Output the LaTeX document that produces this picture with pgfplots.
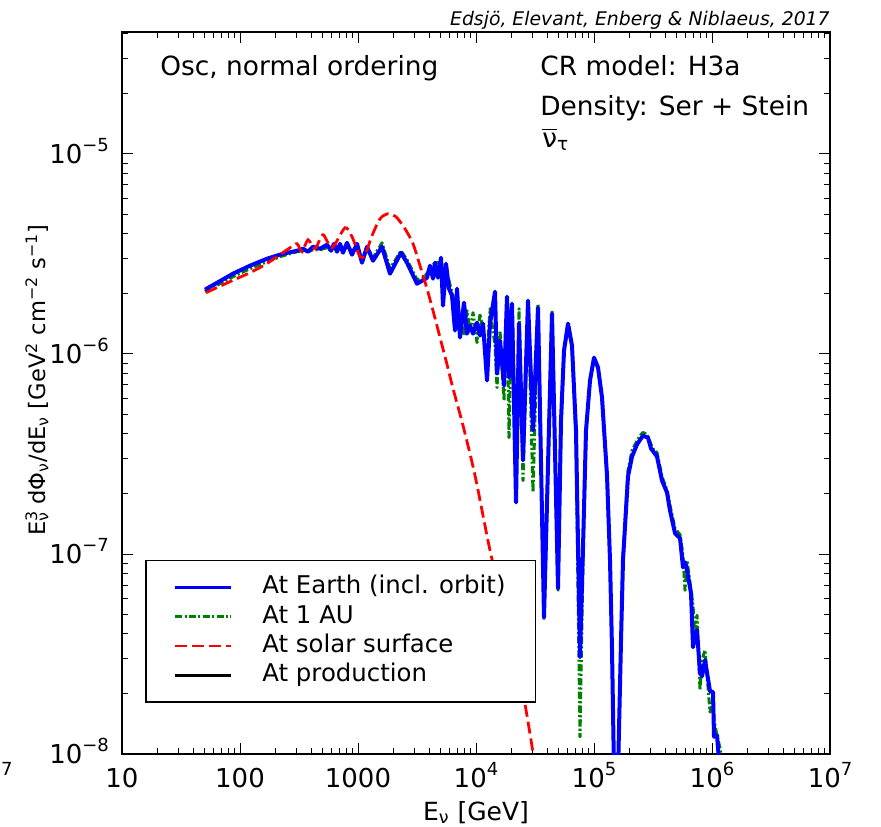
\documentclass[border=0pt]{standalone}
\usepackage{fontspec}
\setmainfont{DejaVu Sans}
\usepackage{pgfplots}
\pgfplotsset{compat=1.18}
\definecolor{mplgreen}{rgb}{0,0.5,0}

\newcommand\tickfont{\fontsize{13}{15}\selectfont}
\newcommand\annfont{\fontsize{13.2}{16}\selectfont}
\newcommand\sups[1]{\raisebox{0.45em}{\fontsize{9}{10}\selectfont #1}}

\begin{document}
\begin{tikzpicture}
\useasboundingbox (-61pt,-36pt) rectangle (379.5pt,377pt);
\begin{axis}[
  at={(0,0)}, anchor=south west,
  scale only axis, width=354pt, height=361pt,
  xmode=log, ymode=log,
  xmin=10, xmax=1e7, ymin=1e-8, ymax=4.07e-5,
  axis line style={line width=0.75pt},
  tick style={line width=0.5pt, black},
  major tick length=5.5pt, minor tick length=3pt,
  tick align=inside,
  xtick={10,100,1000,1e4,1e5,1e6,1e7},
  xticklabels={10,100,1000,10\sups{4},10\sups{5},10\sups{6},10\sups{7}},
  minor xtick={20,30,40,50,60,70,80,90,200,300,400,500,600,700,800,900,
    2000,3000,4000,5000,6000,7000,8000,9000,2e4,3e4,4e4,5e4,6e4,7e4,8e4,9e4,
    2e5,3e5,4e5,5e5,6e5,7e5,8e5,9e5,2e6,3e6,4e6,5e6,6e6,7e6,8e6,9e6},
  ytick={1e-8,1e-7,1e-6,1e-5},
  yticklabels={10\sups{−8},10\sups{−7},10\sups{−6},10\sups{−5}},
  minor ytick={2e-8,3e-8,4e-8,5e-8,6e-8,7e-8,8e-8,9e-8,2e-7,3e-7,4e-7,5e-7,6e-7,7e-7,8e-7,9e-7,
    2e-6,3e-6,4e-6,5e-6,6e-6,7e-6,8e-6,9e-6,2e-5,3e-5,4e-5},
  tick label style={font=\tickfont},
  xticklabel style={anchor=base, yshift=-16.5pt},
  yticklabel style={anchor=base east, xshift=-3pt, yshift=-4.7pt},
  legend style={at={(0.0325,0.0706)}, anchor=south west, draw=black, line width=0.8pt,
    font=\fontsize{12.2}{14}\selectfont, inner xsep=14pt, inner ysep=6pt,
    nodes={inner sep=1pt, text height=9.5pt, text depth=3.2pt},
    /tikz/every odd column/.append style={column sep=14pt},
    cells={anchor=west}, row sep=0pt},
  legend image code/.code={\draw[#1, line width=1.3pt] (0pt,0pt) -- (28pt,0pt);},
]
\addlegendimage{blue, solid}
\addlegendentry{At Earth (incl. orbit)}
\addlegendimage{mplgreen, dash pattern=on 3.5pt off 1.2pt on 1pt off 1.2pt}
\addlegendentry{At 1 AU}
\addlegendimage{red, dash pattern=on 6pt off 2.5pt}
\addlegendentry{At solar surface}
\addlegendimage{black, solid}
\addlegendentry{At production}

% At 1 AU
\addplot[forget plot, mplgreen, line width=1.5pt, line join=round,
  dash pattern=on 3.5pt off 1.2pt on 1pt off 1.2pt] coordinates {
(50.5,2.049e-6) (87.2,2.434e-6) (121.5,2.669e-6) (169.4,2.892e-6) (231.4,3.099e-6)
(304.1,3.245e-6) (341.9,3.282e-6) (376.9,3.245e-6) (415.6,3.320e-6) (476.4,3.320e-6)
(546.2,3.398e-6) (590.4,3.282e-6) (626.1,3.438e-6) (663.8,3.245e-6) (703.8,3.438e-6)
(746.2,3.245e-6) (806.8,3.477e-6) (889.6,3.245e-6) (980.7,3.517e-6) (1081,2.994e-6)
(1192,3.438e-6) (1340,3.029e-6) (1598,3.598e-6) (1867,2.669e-6) (2314,3.282e-6)
(2602,2.960e-6) (3162,2.351e-6) (3625,2.406e-6) (4075,2.669e-6) (4493,2.859e-6)
(5051,2.859e-6) (5568,2.550e-6) (5904,2.325e-6) (6261,2.025e-6) (6638,1.744e-6)
(6902,1.555e-6) (7318,1.609e-6) (7912,1.236e-6) (8389,1.647e-6) (8896,1.309e-6)
(9432,1.609e-6) (1.0197e4,1.140e-6) (1.0812e4,1.591e-6) (1.1464e4,1.309e-6) (1.2395e4,9.82e-7)
(1.3143e4,1.685e-6) (1.4493e4,1.101e-6) (1.5066e4,6.80e-7) (1.5975e4,1.309e-6) (1.7267e4,5.85e-7)
(1.8308e4,1.848e-6) (1.9038e4,3.82e-7) (2.0185e4,1.806e-6) (2.183e4,2.62e-7) (2.3145e4,1.685e-6)
(2.502e4,2.33e-7) (2.758e4,1.806e-6) (3.041e4,2.03e-7) (3.353e4,1.785e-6) (3.769e4,4.67e-8)
(4.406e4,1.647e-6) (4.954e4,6.59e-8) (5.252e4,4.39e-7) (5.568e4,1.016e-6) (6.022e4,1.386e-6)
(6.510e4,1.076e-6) (7.038e4,3.69e-7) (7.609e4,1.22e-8) (8.068e4,9.30e-8) (8.555e4,3.96e-7)
(9.250e4,7.37e-7) (1.0e5,9.59e-7) (1.0812e5,8.65e-7) (1.1689e5,6.06e-7) (1.2888e5,2.47e-7)
(1.3665e5,9.30e-8) (1.4213e5,3.31e-8) (1.4779e5,8e-9) (1.5975e5,8e-9) (1.694e5,3.71e-8)
(1.7607e5,9.85e-8) (1.9413e5,2.62e-7) (2.0987e5,3.29e-7) (2.3145e5,3.69e-7) (2.502e5,3.96e-7)
(2.602e5,4.05e-7) (2.7055e5,4.01e-7) (2.868e5,3.87e-7) (3.041e5,3.53e-7) (3.2243e5,3.29e-7)
(3.419e5,3.22e-7) (3.769e5,2.44e-7) (4.156e5,2.08e-7) (4.406e5,1.75e-7) (4.858e5,1.34e-7)
(5.356e5,1.25e-7) (5.678e5,9.85e-8) (5.904e5,6.59e-8) (6.140e5,9.30e-8) (6.638e5,6.59e-8)
(6.902e5,5.55e-8) (7.176e5,3.71e-8) (7.462e5,4.94e-8) (7.912e5,2.09e-8) (8.227e5,2.95e-8)
(8.724e5,3.31e-8) (9.617e5,1.62e-8) (1.0197e6,1.86e-8) (1.0398e6,1.48e-8) (1.1024e6,1.24e-8)
(1.1689e6,1.07e-8) (1.2395e6,8e-9)
};

% At Earth
\addplot[forget plot, blue, line width=2pt, line join=round] coordinates {
(50.5,2.097e-6) (87.2,2.520e-6) (121.5,2.763e-6) (169.4,2.994e-6) (231.4,3.171e-6)
(304.1,3.282e-6) (341.9,3.359e-6) (376.9,3.245e-6) (415.6,3.438e-6) (476.4,3.359e-6)
(546.2,3.517e-6) (590.4,3.282e-6) (626.1,3.557e-6) (663.8,3.245e-6) (703.8,3.557e-6)
(746.2,3.208e-6) (806.8,3.598e-6) (889.6,3.135e-6) (980.7,3.557e-6) (1081,2.859e-6)
(1192,3.438e-6) (1340,2.926e-6) (1598,3.438e-6) (1867,2.520e-6) (2314,3.208e-6)
(2602,2.859e-6) (3162,2.246e-6) (3625,2.351e-6) (3844,2.406e-6) (4075,2.763e-6)
(4321,2.379e-6) (4493,2.859e-6) (4764,2.406e-6) (5051,3.029e-6) (5252,1.744e-6)
(5568,2.827e-6) (5904,2.121e-6) (6261,1.957e-6) (6638,1.309e-6) (6902,2.121e-6)
(7318,1.208e-6) (7912,1.806e-6) (8389,1.264e-6) (8896,1.386e-6) (9432,1.264e-6)
(1.0197e4,1.435e-6) (1.0812e4,1.236e-6) (1.1464e4,1.419e-6) (1.2395e4,7.37e-7) (1.3143e4,1.419e-6)
(1.4493e4,2.049e-6) (1.5066e4,7.98e-7) (1.5975e4,1.167e-6) (1.7267e4,6.95e-7) (1.8308e4,1.934e-6)
(1.9038e4,7.62e-7) (2.0185e4,1.785e-6) (2.183e4,1.81e-7) (2.3145e4,1.419e-6) (2.502e4,2.94e-7)
(2.758e4,1.848e-6) (3.041e4,4.15e-7) (3.353e4,1.705e-6) (3.769e4,4.83e-8) (4.406e4,1.591e-6)
(4.954e4,6.74e-8) (5.252e4,4.65e-7) (5.568e4,1.040e-6) (6.022e4,1.419e-6) (6.510e4,1.101e-6)
(7.038e4,4.15e-7) (7.609e4,3.05e-8) (8.068e4,1.08e-7) (8.555e4,4.15e-7) (9.250e4,7.37e-7)
(1.0e5,9.59e-7) (1.0812e5,8.55e-7) (1.1689e5,6.06e-7) (1.2888e5,2.47e-7) (1.3665e5,9.30e-8)
(1.4213e5,3.31e-8) (1.4779e5,8e-9) (1.5975e5,8e-9) (1.694e5,3.71e-8) (1.7607e5,9.30e-8)
(1.9413e5,2.44e-7) (2.0987e5,3.07e-7) (2.3145e5,3.53e-7) (2.502e5,3.78e-7) (2.602e5,3.91e-7)
(2.7055e5,3.87e-7) (2.868e5,3.82e-7) (3.041e5,3.37e-7) (3.2243e5,3.22e-7) (3.419e5,3.07e-7)
(3.769e5,2.33e-7) (4.156e5,2.03e-7) (4.406e5,1.65e-7) (4.858e5,1.27e-7) (5.356e5,1.20e-7)
(5.678e5,8.58e-8) (5.904e5,9.09e-8) (6.140e5,8.29e-8) (6.638e5,6.37e-8) (6.902e5,3.42e-8)
(7.176e5,3.88e-8) (7.462e5,4.16e-8) (7.912e5,2.54e-8) (8.227e5,2.45e-8) (8.724e5,2.95e-8)
(9.617e5,2.06e-8) (1.0197e6,2.04e-8) (1.0398e6,1.22e-8) (1.1024e6,1.24e-8) (1.1689e6,8e-9)
};

% At solar surface
\addplot[forget plot, red, line width=1.4pt, dash pattern=on 6pt off 2.5pt, smooth, tension=0.45] coordinates {
(51.5,2.025e-6) (82.2,2.299e-6) (121.6,2.550e-6) (162.9,2.794e-6) (205.9,3.064e-6)
(265.3,3.398e-6) (304.2,3.558e-6) (335.3,3.245e-6) (377.0,3.725e-6) (432.1,3.359e-6)
(505.0,3.946e-6) (602.1,3.398e-6) (775.9,4.277e-6) (889.6,3.857e-6) (1040,3.064e-6)
(1146,3.135e-6) (1314,3.901e-6) (1537,4.742e-6) (1796,5.023e-6) (2099,4.853e-6)
(2502,4.228e-6) (2925,3.558e-6) (3353,2.763e-6) (3843,2.121e-6) (4322,1.647e-6)
(5569,9.27e-7) (6386,6.72e-7) (7760,4.39e-7) (9806,2.47e-7) (1.314e4,1.043e-7)
(1.761e4,4.94e-8) (2.140e4,2.947e-8) (2.502e4,2.016e-8) (2.925e4,1.175e-8) (3.101e4,9.33e-9)
};
\end{axis}

\node[anchor=base west, inner sep=0pt, font=\annfont] at (19pt,339pt) {Osc, normal ordering};
\node[anchor=base west, inner sep=0pt, font=\annfont] at (209pt,339pt) {CR model: H3a};
\node[anchor=base west, inner sep=0pt, font=\annfont] at (209pt,319.5pt) {Density: Ser + Stein};
\node[anchor=base west, inner sep=0pt, font=\annfont] at (210pt,303.5pt) {$\overline{\hbox{ν}}$\textsubscript{τ}};
\node[anchor=base east, inner sep=0pt, font=\fontsize{9.4}{11}\selectfont\itshape] at (354pt,364pt)
  {Edsjö, Elevant, Enberg \& Niblaeus, 2017};
\node[anchor=base, inner sep=0pt, font=\fontsize{12.5}{15}\selectfont] at (177pt,-33pt)
  {E\textsubscript{ν} [GeV]};
\node[anchor=base, rotate=90, inner sep=0pt, font=\fontsize{11.3}{14}\selectfont] at (-38.5pt,187pt)
  {E\rlap{\textsuperscript{3}}\textsubscript{ν} dΦ\textsubscript{ν}/dE\textsubscript{ν} [GeV\textsuperscript{2} cm\textsuperscript{−2} s\textsuperscript{−1}]};
\node[anchor=base east, inner sep=0pt, font=\tickfont] at (-54.5pt,-16.5pt) {10\sups{7}};
\end{tikzpicture}
\end{document}
